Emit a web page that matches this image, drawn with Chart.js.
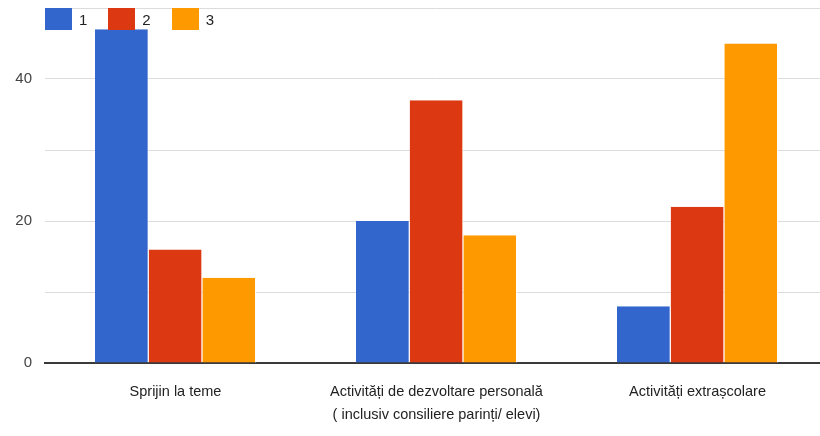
<!DOCTYPE html>
<html>
<head>
<meta charset="utf-8">
<script src="https://cdn.jsdelivr.net/npm/chart.js@4.4.0/dist/chart.umd.min.js"></script>
<style>
  html, body { margin: 0; padding: 0; background: #fff; overflow: hidden; }
  #wrap { position: relative; width: 828px; height: 436px; }
  #legend { position: absolute; left: 45px; top: 8px; display: flex; }
  .item { display: flex; align-items: center; margin-right: 21px; height: 22px;
          font: 15px 'Liberation Sans', Arial, sans-serif; color: #222; }
  .box { width: 27px; height: 22px; margin-right: 7px; }
</style>
</head>
<body>
<div id="wrap">
  <canvas id="chart" width="828" height="436"></canvas>
  <div id="legend"></div>
</div>
<script>
// Chart data
const categories = [
  'Sprijin la teme',
  ['Activități de dezvoltare personală', '( inclusiv consiliere parinți/ elevi)'],
  'Activități extrașcolare'
];
const seriesNames = ['1', '2', '3'];
const series1 = [47, 20, 8];
const series2 = [16, 37, 22];
const series3 = [12, 18, 45];
const colors = ['#3366cc', '#dc3912', '#ff9900'];

const FONT = "'Liberation Sans', Arial, sans-serif";

const datasets = [series1, series2, series3].map((values, i) => ({
  label: seriesNames[i],
  data: values,
  backgroundColor: colors[i],
  borderColor: '#ffffff',
  borderWidth: { left: 0, right: 1, top: 0, bottom: 0 },
  borderSkipped: false,
  categoryPercentage: 0.617,
  barPercentage: 1.0
}));

new Chart(document.getElementById('chart'), {
  type: 'bar',
  data: { labels: categories, datasets: datasets },
  options: {
    responsive: false,
    animation: false,
    devicePixelRatio: 1,
    layout: { padding: { top: 8, right: 0, left: 0, bottom: 0 } },
    plugins: {
      legend: { display: false },
      tooltip: { enabled: false }
    },
    scales: {
      x: {
        grid: { display: false },
        border: { color: '#3a3a3a', width: 2 },
        ticks: {
          color: '#222222',
          padding: 9,
          maxRotation: 0,
          minRotation: 0,
          autoSkip: false,
          font: { family: FONT, size: 14.5, lineHeight: 1.6 }
        },
        afterFit: (scale) => {
          scale.height = 73;
          scale.paddingLeft = 0;
          scale.paddingRight = 0;
        }
      },
      y: {
        min: 0,
        max: 50,
        border: { display: false },
        grid: {
          color: (ctx) => ctx.tick && ctx.tick.value === 0 ? 'rgba(0,0,0,0)' : '#dcdcdc',
          lineWidth: 1,
          drawTicks: false
        },
        ticks: {
          stepSize: 10,
          color: '#444444',
          padding: 13,
          font: { family: FONT, size: 15 },
          callback: (value) => value % 20 === 0 ? value : ''
        },
        afterFit: (scale) => {
          scale.width = 45;
          scale.paddingTop = 0;
          scale.paddingBottom = 0;
        }
      }
    }
  }
});

// HTML legend overlaid at top-left of the plot
const legend = document.getElementById('legend');
seriesNames.forEach((name, i) => {
  const item = document.createElement('div');
  item.className = 'item';
  const box = document.createElement('div');
  box.className = 'box';
  box.style.background = colors[i];
  const txt = document.createElement('span');
  txt.textContent = name;
  item.appendChild(box);
  item.appendChild(txt);
  legend.appendChild(item);
});
</script>
</body>
</html>
